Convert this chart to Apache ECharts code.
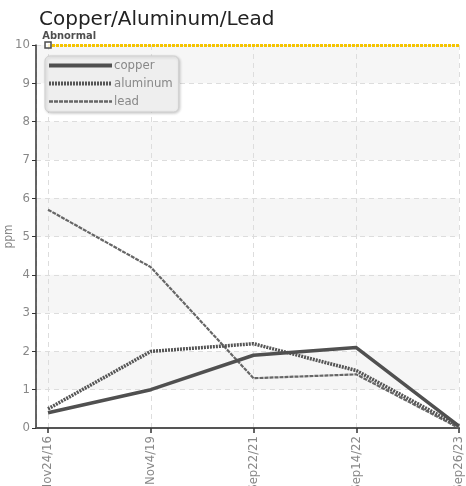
<!DOCTYPE html>
<html><head><meta charset="utf-8">
<script src="https://cdn.jsdelivr.net/npm/echarts@6/dist/echarts.min.js"></script>
<style>html,body{margin:0;padding:0;background:#fff}#c{width:466px;height:486px}</style>
</head><body><div id="c"></div>
<script>
var categories = ['Nov24/16', 'Nov4/19', 'Sep22/21', 'Sep14/22', 'Sep26/23'];
var copper = [0.4, 1.0, 1.9, 2.1, 0.05];
var aluminum = [0.5, 2.0, 2.2, 1.5, 0.05];
var lead = [5.7, 4.2, 1.3, 1.4, 0.0];
var abnormal = 10;

var FONT = '"Liberation Sans Narrow","DejaVu Sans Condensed","Roboto",sans-serif';
function pts(arr){ return arr.map(function(v,i){ return [i, v]; }); }

var chart = echarts.init(document.getElementById('c'), null, {renderer:'canvas'});
chart.setOption({
  animation: false,
  title: { text: 'Copper/Aluminum/Lead', left: 34, top: 5,
    textStyle: { fontFamily: '"DejaVu Sans",sans-serif', fontSize: 20, fontWeight: 'normal', color: '#222' } },
  grid: { left: 36, right: 7, top: 45, bottom: 58, containLabel: false, outerBoundsMode: 'none' },
  legend: {
    orient: 'vertical', left: 45, top: 56, itemWidth: 63, itemHeight: 8, itemGap: 5,
    padding: [3, 6, 4, 2],
    backgroundColor: '#eeeeee', borderColor: '#cfcfcf', borderWidth: 1, borderRadius: 5,
    shadowColor: 'rgba(0,0,0,0.2)', shadowBlur: 3, shadowOffsetX: 1, shadowOffsetY: 1,
    itemStyle: { opacity: 0 },
    textStyle: { color: '#888', fontFamily: FONT, fontSize: 13, padding: [0,0,0,-3] },
    data: [
      { name: 'copper', lineStyle: { width: 4 } },
      { name: 'aluminum', lineStyle: { width: 4 } },
      { name: 'lead', lineStyle: { width: 2.5 } }
    ]
  },
  xAxis: {
    type: 'value', min: -0.117, max: 4, minInterval: 1, maxInterval: 1,
    axisLine: { onZero: false, lineStyle: { color: '#555', width: 2 } },
    axisTick: { show: true, length: 5, lineStyle: { color: '#333', width: 1.5 } },
    axisLabel: { rotate: 90, color: '#888', fontFamily: FONT, fontSize: 13, margin: 8, showMinLabel: false,
      formatter: function(v){ var i = Math.round(v); return Math.abs(v - i) < 1e-6 ? (categories[i] || '') : ''; } },
    splitLine: { show: true, lineStyle: { color: '#ddd', type: [5, 4] } }
  },
  yAxis: {
    type: 'value', min: 0, max: 10, interval: 1, name: 'ppm', nameLocation: 'middle', nameGap: 21,
    nameMoveOverlap: false,
    nameTextStyle: { color: '#888', fontFamily: FONT, fontSize: 12 },
    axisLine: { show: true, onZero: false, lineStyle: { color: '#333', width: 1.5 } },
    axisTick: { show: true, length: 4, lineStyle: { color: '#333' } },
    axisLabel: { color: '#888', fontFamily: FONT, fontSize: 13, margin: 6 },
    splitLine: { show: true, lineStyle: { color: '#ddd', type: [5, 4] } },
    splitArea: { show: true, areaStyle: { color: ['rgba(255,255,255,0)', '#f6f6f6'] } }
  },
  series: [
    { name: 'copper', type: 'line', data: pts(copper), showSymbol: false, symbol: 'none',
      color: '#555', lineStyle: { color: '#505050', width: 3.5 }, z: 5 },
    { name: 'aluminum', type: 'line', data: pts(aluminum), showSymbol: false, symbol: 'none',
      color: '#555', lineStyle: { color: '#555', width: 3.5, type: [2, 1] }, z: 4 },
    { name: 'lead', type: 'line', data: pts(lead), showSymbol: false, symbol: 'none',
      color: '#666', lineStyle: { color: '#666', width: 2.2, type: [4, 1] }, z: 3,
      markLine: { silent: true, symbol: 'none', animation: false,
        lineStyle: { color: '#f5c400', width: 3, type: [3, 1] },
        label: { show: false },
        data: [[{ coord: [0, abnormal] }, { coord: [4, abnormal] }]] } },
    { name: 'abn', type: 'scatter', data: [[0, abnormal]], symbol: 'rect', symbolSize: 6, z: 10,
      itemStyle: { color: '#fff', borderColor: '#222', borderWidth: 1.5 },
      label: { show: true, formatter: 'Abnormal', position: [-2, -11], color: '#222',
        fontFamily: FONT, fontSize: 11, fontWeight: 'bold' } }
  ]
});
</script></body></html>
